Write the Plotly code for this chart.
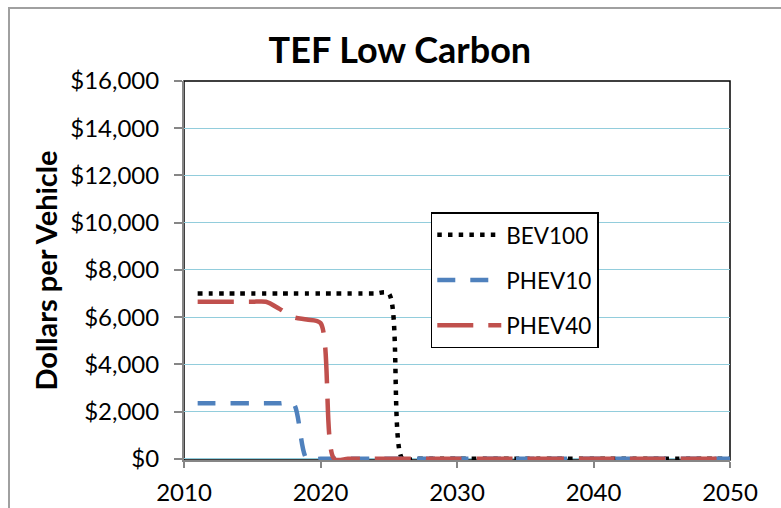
import plotly.graph_objects as go

# Incentive per vehicle by model year, TEF Low Carbon scenario
years = [2011, 2012, 2013, 2014, 2015, 2016, 2017, 2018, 2019, 2020,
         2021, 2022, 2023, 2024, 2025, 2026, 2027, 2028, 2029, 2030,
         2031, 2032, 2033, 2034, 2035, 2036, 2037, 2038, 2039, 2040,
         2041, 2042, 2043, 2044, 2045, 2046, 2047, 2048, 2049, 2050]

bev100 = [7000, 7000, 7000, 7000, 7000, 7000, 7000, 7000, 7000, 7000,
          7000, 7000, 7000, 7000, 7000, 0, 0, 0, 0, 0,
          0, 0, 0, 0, 0, 0, 0, 0, 0, 0,
          0, 0, 0, 0, 0, 0, 0, 0, 0, 0]

phev10 = [2350, 2350, 2350, 2350, 2350, 2350, 2350, 2350, 0, 0,
          0, 0, 0, 0, 0, 0, 0, 0, 0, 0,
          0, 0, 0, 0, 0, 0, 0, 0, 0, 0,
          0, 0, 0, 0, 0, 0, 0, 0, 0, 0]

phev40 = [6650, 6650, 6650, 6650, 6650, 6650, 6350, 6000, 5900, 5750,
          0, 0, 0, 0, 0, 0, 0, 0, 0, 0,
          0, 0, 0, 0, 0, 0, 0, 0, 0, 0,
          0, 0, 0, 0, 0, 0, 0, 0, 0, 0]

y_ticks = [0, 2000, 4000, 6000, 8000, 10000, 12000, 14000, 16000]
y_tick_text = ["$0", "$2,000", "$4,000", "$6,000", "$8,000",
               "$10,000", "$12,000", "$14,000", "$16,000"]
x_ticks = [2010, 2020, 2030, 2040, 2050]

FONT = "Lato, 'Open Sans', sans-serif"

series = [
    ("BEV100", bev100, "#000000", "4.5px,6.2px"),
    ("PHEV10", phev10, "#4F81BD", "18px,15px"),
    ("PHEV40", phev40, "#C0504D", "36px,15px"),
]

fig = go.Figure()
for name, vals, color, dash in series:
    fig.add_trace(go.Scatter(
        x=years, y=vals, name=name, mode="lines", legendgroup=name,
        line=dict(color=color, width=4.5, dash=dash, shape="spline", smoothing=0.8),
    ))

fig.update_layout(
    width=781, height=508,
    margin=dict(l=184, r=51, t=81, b=48),
    paper_bgcolor="white", plot_bgcolor="white",
    font=dict(family=FONT, size=22, color="black"),
    title=dict(text="<b>TEF Low Carbon</b>", x=0.512, xref="container",
               y=1 - 50 / 508, yref="container", yanchor="middle", xanchor="center",
               font=dict(family=FONT, size=36, color="black")),
    showlegend=True,
    legend=dict(x=0.452, y=0.654, xanchor="left", yanchor="top",
                bgcolor="white", bordercolor="black", borderwidth=1.5,
                font=dict(family=FONT, size=22.5), tracegroupgap=13,
                itemwidth=64),
    xaxis=dict(range=[2010, 2050], tickvals=x_ticks, showgrid=False, zeroline=False,
               showline=True, linecolor="#868686", linewidth=2, automargin=False,
               ticks="outside", ticklen=6, tickcolor="#868686", tickwidth=1.5,
               ticklabelstandoff=4, tickfont=dict(size=24)),
    yaxis=dict(range=[-50, 16000], tickvals=y_ticks, ticktext=y_tick_text,
               showgrid=True, gridcolor="#92CDDC", gridwidth=1.2, zeroline=False,
               showline=True, linecolor="#868686", linewidth=2, automargin=False,
               ticks="outside", ticklen=8, tickcolor="#868686", tickwidth=1.5,
               ticklabelstandoff=10, tickfont=dict(size=24),
               title=dict(text="<b>Dollars per Vehicle</b>", standoff=4,
                          font=dict(family=FONT, size=29))),
    shapes=[
        # plot area frame
        dict(type="rect", xref="paper", yref="paper", x0=0, x1=1, y0=0, y1=1,
             line=dict(color="black", width=1.5), layer="between"),
        # chart area frame
        dict(type="rect", xref="paper", yref="paper", x0=-0.3205, x1=1.25,
             y0=-0.2, y1=1.1926, line=dict(color="#A0A0A0", width=2)),
    ],
)

fig.write_html("out.html")
